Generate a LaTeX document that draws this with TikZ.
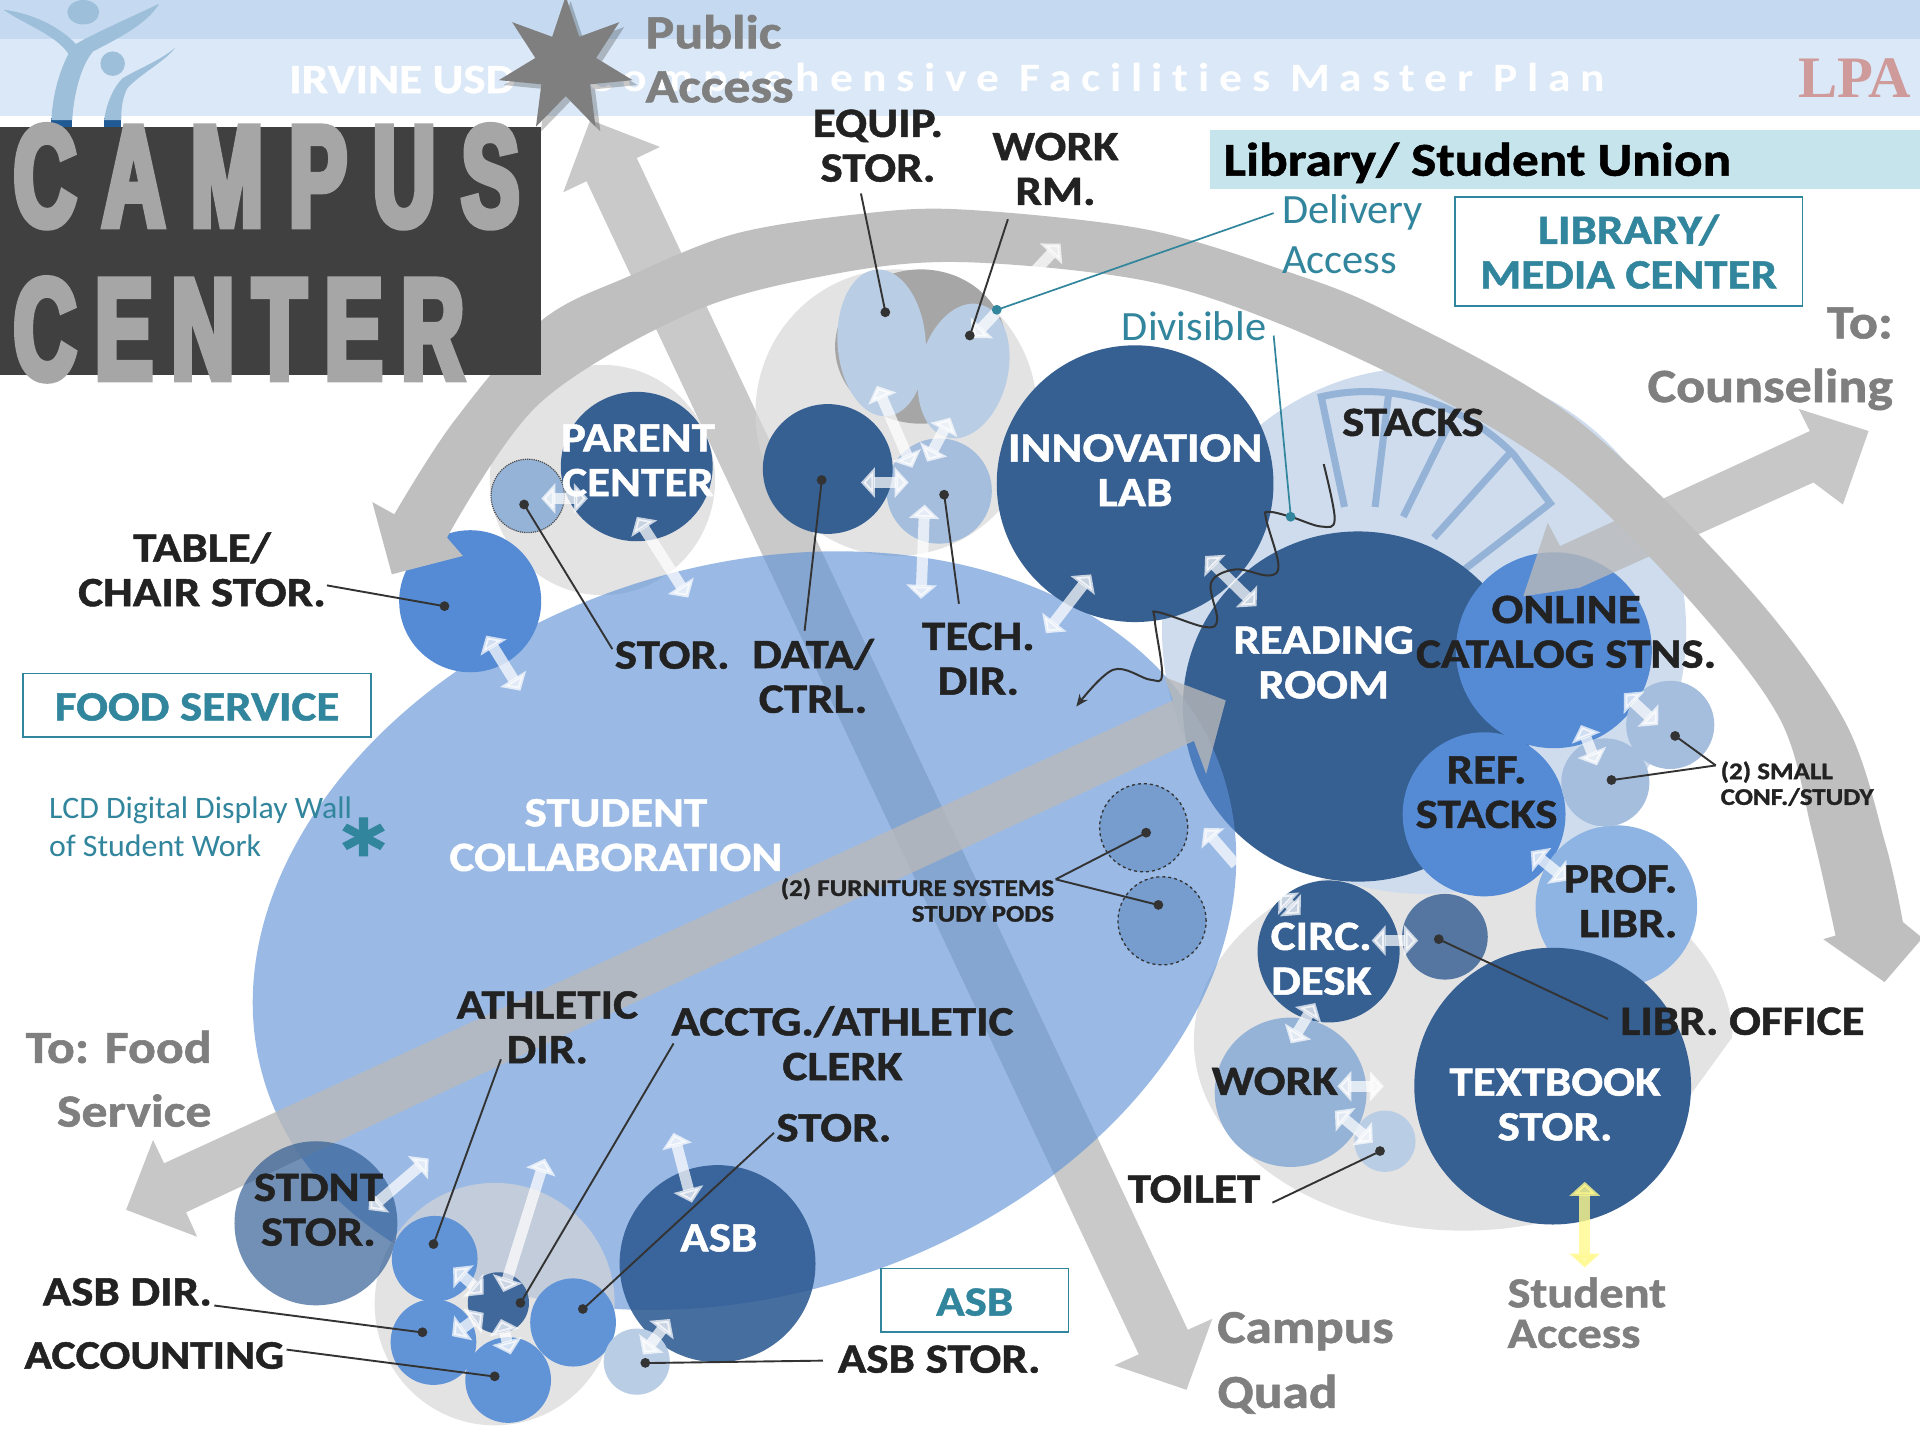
\documentclass[tikz,border=0pt]{standalone}
\usepackage{fontspec}
\setmainfont[FakeStretch=1.02,BoldFeatures={FakeStretch=1.13,FakeBold=1.2}]{Carlito}
\newfontfamily\impf[FakeStretch=0.6,FakeBold=4.5,LetterSpace=18]{Liberation Sans}
\newfontfamily\impg[FakeStretch=0.6,FakeBold=4.5,LetterSpace=13]{Liberation Sans}
\newfontfamily\hdrf[FakeStretch=1.13,LetterSpace=24,Ligatures=NoCommon]{Carlito}
\usetikzlibrary{shapes.geometric,arrows.meta}
\definecolor{hdA}{HTML}{C5DAF0}\definecolor{hdB}{HTML}{DBE8F7}
\definecolor{fig}{HTML}{9DBFD9}\definecolor{figd}{HTML}{1F5A94}
\definecolor{tealc}{HTML}{31859C}\definecolor{darkb}{HTML}{365F92}
\definecolor{midb}{HTML}{558BD5}\definecolor{softb}{HTML}{95B3D7}
\definecolor{paleb}{HTML}{B9CDE5}\definecolor{txtd}{HTML}{222222}
\definecolor{txtg}{HTML}{7F7F7F}\definecolor{lnk}{HTML}{333333}
\definecolor{stuc}{HTML}{5C91D6}\definecolor{profc}{HTML}{8EB4E3}
\definecolor{podc}{HTML}{769DCE}\definecolor{asbc}{HTML}{2D5A92}
\definecolor{smb}{HTML}{6194D7}\definecolor{clerkc}{HTML}{41689B}
\definecolor{barc}{HTML}{C6E4EB}\definecolor{lpac}{HTML}{CF9A9A}
\tikzset{
 lab/.style={inner sep=0pt,align=center,font=\bfseries\fontsize{34}{36.5}\selectfont},
 wl/.style={lab,text=white},
 dl/.style={lab,text=txtd},
 smal/.style={inner sep=0pt,text=txtd,font=\bfseries\fontsize{19.5}{21}\selectfont},
 gl/.style={inner sep=0pt,text=txtg,font=\bfseries\fontsize{39}{44}\selectfont},
 tl/.style={inner sep=0pt,text=tealc,font=\fontsize{34}{41}\selectfont},
 boxn/.style={draw=tealc,line width=1.6pt,fill=white,inner sep=0pt,align=center,text=tealc,font=\bfseries\fontsize{34}{36.5}\selectfont},
 blobn/.style={ellipse,inner sep=0pt,draw=none},
 dotn/.style={circle,fill=lnk,inner sep=0pt,minimum size=8},
 tdot/.style={circle,fill=tealc,inner sep=0pt,minimum size=8},
 leader/.style={draw=lnk,line width=1.9pt},
 tleader/.style={draw=tealc,line width=1.7pt},
 wh/.style={draw=white,opacity=.72,line width=11pt,{Triangle[length=14pt,width=30pt]}-{Triangle[length=14pt,width=30pt]}},
 whone/.style={draw=white,opacity=.72,line width=11pt,{Triangle[length=14pt,width=30pt]}-},
 yl/.style={draw=yellow!45,opacity=.8,line width=11pt,{Triangle[length=14pt,width=30pt]}-{Triangle[length=14pt,width=30pt]}},
 bigarrow/.style={fill=black!27.5,fill opacity=.79},
}
\newcommand\blob[6]{\node[blobn,minimum width=2*#4,minimum height=2*#5,#6] (#1) at (#2,#3) {};}
\newcount\wn \wn=0
\newcommand\dbl[5][wh]{\global\advance\wn by 1
 \coordinate (wa\the\wn) at (#2,#3);\coordinate (wb\the\wn) at (#4,#5);
 \draw[#1] (wa\the\wn) -- (wb\the\wn);}
\newcommand\lead[5]{\node[dotn] (#1) at (#2,#3) {};\coordinate (#1e) at (#4,#5);\draw[leader] (#1.center) -- (#1e);}
\begin{document}
\begin{tikzpicture}[x=1pt,y=-1pt,scale=1.22449,every node/.append style={transform shape}]
\useasboundingbox (0,0) rectangle (1568,1176);
\fill[white] (0,0) rectangle (1568,1176);
% header
\fill[hdA] (0,0) rectangle (1568,32);
\fill[hdB] (0,32) rectangle (1568,95);
\node[inner sep=0pt,anchor=west,text=white,font=\bfseries\fontsize{34}{36}\selectfont] (hdra) at (236,65) {IRVINE USD};
\node[inner sep=0pt,anchor=east,text=white,font=\hdrf\bfseries\fontsize{33}{36}\selectfont] (hdrb) at (1311,66) {Comprehensive Facilities Master Plan};
\node[inner sep=0pt,anchor=east,text=lpac,font=\fontspec{Liberation Serif}\bfseries\fontsize{48}{48}\selectfont] (lpa) at (1561,64) {LPA};
% logo
\fill[figd] (42,96) rectangle (59,104);\fill[figd] (85,96) rectangle (99,104);
\fill[fig] (3,8) .. controls (20,10) and (45,18) .. (62,36) .. controls (75,28) and (105,15) .. (130,3) .. controls (120,20) and (95,32) .. (76,42) .. controls (65,55) and (60,80) .. (59,98) -- (42,98) .. controls (43,75) and (50,55) .. (56,44) .. controls (45,28) and (20,20) .. (3,8) -- cycle;
\fill[fig] (143,39) .. controls (135,50) and (115,60) .. (104,72) .. controls (100,80) and (99,88) .. (99,98) -- (85,98) .. controls (87,85) and (92,72) .. (100,64) .. controls (115,55) and (130,50) .. (143,39) -- cycle;
\blob{heada}{68}{10}{13}{10}{fill=fig}
\blob{headb}{92}{52}{10}{10}{fill=fig}
% arrow A
\fill[black!21] (482,98) -- (539,120) -- (520,129) -- (970,1086) -- (990,1077) -- (969,1135) -- (910,1115) -- (930,1106) -- (479,148) -- (460,157) -- cycle;
% grey blobs below student area
\blob{gpar}{492}{392}{92}{94}{fill=black!16,fill opacity=.68}
\blob{gdata}{732}{337}{115}{117}{fill=black!16,fill opacity=.68}
\begin{scope}
\clip (900,600) -- (1500,600) -- (1414,848) -- (1340,950) -- (1300,1100) -- (900,1100) -- cycle;
\blob{glow}{1195}{850}{220}{155}{fill=black!16,fill opacity=.68}
\end{scope}
\blob{gstack}{1163}{515}{214}{215}{fill=paleb!70}
% stacks
\draw[softb,line width=7pt,line join=miter] (1098,414) -- (1079,324) .. controls (1130,312) and (1190,325) .. (1236,371) -- (1266,411) -- (1196,465);
\draw[softb,line width=7pt] (1134,322) -- (1123,414);
\draw[softb,line width=7pt] (1184,345) -- (1146,422);
\draw[softb,line width=7pt] (1234,369) -- (1171,439);
% reading room
\blob{reading}{1109}{577}{143}{143}{fill=darkb}
% student ellipse
\node[blobn,minimum width=822,minimum height=594,rotate=18,fill=stuc,fill opacity=.62] (student) at (608,760) {};
\blob{gasb}{404}{1065}{98}{99}{fill=black!16,fill opacity=.68}
% blue nodes
\blob{table}{384}{491}{58}{58}{fill=midb}
\blob{online}{1269}{531}{80}{80}{fill=midb}
\blob{refst}{1212}{665}{66.5}{67}{fill=midb}
\blob{prof}{1320}{740}{66}{66}{fill=profc}
\blob{workn}{1054}{892}{62}{61}{fill=softb}
\blob{toilet}{1131}{932}{25}{25}{fill=paleb}
\blob{confa}{1311}{639}{36}{36}{fill=softb!85}
\blob{confb}{1364}{592}{36}{36}{fill=softb!85}
\blob{tech}{767}{401}{43}{43}{fill=softb!85}
\blob{greyc}{752}{283}{70}{63}{fill=black!35}
\blob{equip}{720}{280}{36}{60}{fill=paleb,rotate=4}
\blob{workrm}{787}{303}{36}{56}{fill=paleb,rotate=-14}
\blob{storp}{431}{405}{30}{30}{fill=softb,draw=black!70,densely dotted,line width=1.2pt}
\blob{poda}{934}{676}{36}{36}{fill=podc,draw=lnk,dashed,line width=1.3pt}
\blob{podb}{949}{752}{36}{36}{fill=podc,draw=lnk,dashed,line width=1.3pt}
\blob{innov}{927}{395}{113}{113}{fill=darkb}
\blob{parent}{520}{381}{62}{61}{fill=darkb}
\blob{data}{676}{383}{53}{53}{fill=darkb}
\blob{circ}{1085}{777}{58}{58}{fill=darkb}
\blob{office}{1180}{765}{35}{35}{fill=darkb,fill opacity=.82}
\blob{textbook}{1268}{887}{113}{113}{fill=darkb}
% arrows B and C
\fill[bigarrow] (1001,572) -- (985,632) -- (975,605) -- (152,990) -- (161,1010) -- (103,988) -- (125,931) -- (134,950) -- (958,572) -- (951,553) -- cycle;
\fill[bigarrow] (1526,352) -- (1505,412) -- (1481,394) -- (1290,480) -- (1244,487) -- (1264,427) -- (1274,446) -- (1478,352) -- (1469,334) -- cycle;
\blob{asb}{586}{1032}{80}{80.5}{fill=asbc,fill opacity=.88}
\blob{stdnt}{258}{999}{66.5}{67}{fill=asbc,fill opacity=.67}
\blob{athl}{355}{1028}{35}{35}{fill=smb}
\blob{asbdir}{354}{1096}{35}{35}{fill=smb}
\blob{acct}{415}{1127}{35}{35}{fill=smb}
\blob{storb}{468}{1080}{35}{36}{fill=smb}
\blob{clerk}{407}{1064}{25}{25}{fill=clerkc}
\blob{asbst}{520}{1112}{27}{27}{fill=paleb}
% arc
\fill[black!25] plot[smooth,tension=.55] coordinates {(322,420) (370,345) (442,262) (515,225) (600,191) (700,175) (784,171) (934,187) (1049,221) (1134,255) (1284,340) (1424,476) (1506,588) (1540,690) (1554,753)} -- (1570,766) -- (1539,802) -- (1489,767) -- plot[smooth,tension=.55] coordinates {(1499,764) (1480,680) (1454,588) (1384,495) (1284,394) (1184,330) (1049,266) (934,229) (784,214) (680,224) (565,255) (440,330) (365,439)} -- (378,454) -- (320,469) -- (304,410) -- cycle;
% white arrows
\dbl{716}{315}{745}{382}
\dbl{776}{341}{757}{377}
\dbl{703}{394}{742}{394}
\dbl{755}{412}{752}{489}
\dbl{442}{407}{480}{407}
\dbl{520}{422}{562}{488}
\dbl{397}{519}{425}{564}
\dbl{866}{199}{794}{276}
\dbl{891}{469}{854}{517}
\dbl{984}{454}{1026}{495}
\dbl{1326}{566}{1354}{592}
\dbl{1291}{592}{1304}{625}
\dbl{1250}{695}{1280}{719}
\dbl[whone]{983}{676}{1009}{706}
\dbl{1044}{730}{1062}{747}
\dbl{1120}{768}{1158}{768}
\dbl{1074}{819}{1054}{852}
\dbl{1092}{887}{1130}{887}
\dbl{1090}{907}{1121}{933}
\dbl[yl]{1294}{965}{1294}{1035}
\dbl{350}{946}{301}{988}
\dbl{445}{946}{411}{1055}
\dbl{550}{925}{565}{982}
\dbl{370}{1035}{395}{1057}
\dbl{395}{1072}{369}{1091}
\dbl{409}{1077}{417}{1106}
\dbl{547}{1077}{525}{1106}
% divisible wall
\draw[lnk,line width=2pt,-{Stealth[length=12pt,width=10pt]}] plot[smooth,tension=.6] coordinates {(1081,379) (1090,424) (1079,430) (1054,422) (1036,418) (1034,424) (1044,461) (1036,470) (1009,465) (989,476) (994,506) (984,512) (946,500) (943,506) (949,551) (939,555) (909,547) (879,577)};
% header rectangle
\fill[black!75] (0,104) rectangle (442,306);
\node[inner sep=0pt,anchor=west,text=black!35,font=\impf\bfseries\fontsize{118}{118}\selectfont] (campus) at (11,144) {CAMPUS};
\node[inner sep=0pt,anchor=west,text=black!35,font=\impg\bfseries\fontsize{118}{118}\selectfont] (center) at (11,269) {CENTER};
% star
\node[star,star points=7,star point ratio=2.2,minimum size=112,inner sep=0pt,fill=black,fill opacity=.22] (starsh) at (466,57) {};
\node[star,star points=7,star point ratio=2.2,minimum size=112,inner sep=0pt,fill=txtg] (star) at (462,53) {};
% bars and boxes
\fill[barc] (988,106) rectangle (1568,154);
\node[inner sep=0pt,anchor=west,text=black,font=\bfseries\fontsize{38.5}{44}\selectfont] (libsu) at (999,133) {Library/ Student Union};
\node[boxn,minimum width=284,minimum height=89] (libbox) at (1330,205.5) {LIBRARY/\\MEDIA CENTER};
\node[boxn,minimum width=284,minimum height=52,text height=25] (foodbox) at (161,576) {FOOD SERVICE};
\node[boxn,minimum width=153,minimum height=52,text height=25] (asbbox) at (796,1062) {ASB};
% leaders
\lead{la}{363}{495}{267}{478}
\lead{lb}{428}{412}{500}{530}
\lead{lc}{671}{392}{657}{515}
\lead{ld}{771}{404}{783}{493}
\lead{le}{723}{255}{703}{158}
\lead{lf}{792}{274}{823}{179}
\lead{lg}{1175}{767}{1313}{832}
\lead{lh}{1127}{940}{1039}{982}
\lead{li}{1316}{637}{1401}{625}
\lead{lj}{1368}{601}{1401}{625}
\lead{lk}{936}{680}{862}{718}
\lead{ll}{946}{739}{862}{718}
\lead{lm}{354}{1016}{409}{865}
\lead{ln}{425}{1064}{550}{852}
\lead{lo}{476}{1069}{632}{925}
\lead{lp}{345}{1088}{175}{1066}
\lead{lq}{404}{1124}{234}{1102}
\lead{lr}{527}{1113}{672}{1111}
\node[tdot] (tda) at (814,253) {};\coordinate (tdae) at (1040,174);\draw[tleader] (tda.center) -- (tdae);
\node[tdot] (tdb) at (1054,422) {};\coordinate (tdbe) at (1040,274);\draw[tleader] (tdb.center) -- (tdbe);
% labels
\node[gl,align=left,anchor=west] (tpub) at (527,48) {Public\\Access};
\node[dl] (tequip) at (717,119) {EQUIP.\\STOR.};
\node[dl] (tworkrm) at (862,138) {WORK\\RM.};
\node[tl,align=left,anchor=west] (tdeliv) at (1047,191) {Delivery\\Access};
\node[gl,align=right,anchor=east,font=\bfseries\fontsize{39}{52}\selectfont] (tcoun) at (1546,293) {To:\\Counseling};
\node[tl,anchor=west] (tdiv) at (916,266) {Divisible};
\node[dl] (tstacks) at (1154,345) {STACKS};
\node[wl] (tread) at (1081,541) {READING\\ROOM};
\node[dl] (tonline) at (1279,516) {ONLINE\\CATALOG STNS.};
\node[dl] (tref) at (1214,647) {REF.\\STACKS};
\node[dl,align=right,anchor=east] (tprof) at (1370,736) {PROF.\\LIBR.};
\node[smal,align=left,anchor=west] (tconf) at (1405,640) {(2) SMALL\\CONF./STUDY};
\node[smal,align=right,anchor=east] (tfurn) at (861,735) {(2) FURNITURE SYSTEMS\\STUDY PODS};
\node[wl] (tcirc) at (1079,783) {CIRC.\\DESK};
\node[dl] (toffice) at (1423,834) {LIBR. OFFICE};
\node[dl] (twork) at (1041,883) {WORK};
\node[wl] (ttext) at (1270,902) {TEXTBOOK\\STOR.};
\node[dl] (ttoil) at (975,971) {TOILET};
\node[gl,align=left,anchor=west,font=\bfseries\fontsize{35}{33}\selectfont] (tstud) at (1231,1072) {Student\\Access};
\node[gl,align=left,anchor=west,font=\bfseries\fontsize{38.5}{53}\selectfont] (tquad) at (994,1113) {Campus\\Quad};
\node[dl] (tasbs) at (767,1110) {ASB STOR.};
\node[wl] (tasb) at (587,1011) {ASB};
\node[dl] (tstor) at (681,921) {STOR.};
\node[dl] (tacct) at (688,852) {ACCTG./ATHLETIC\\CLERK};
\node[dl] (tathl) at (447,839) {ATHLETIC\\DIR.};
\node[dl] (tstdnt) at (260,988) {STDNT\\STOR.};
\node[dl] (tasbd) at (104,1055) {ASB DIR.};
\node[dl,font=\bfseries\fontsize{33}{36}\selectfont] (tacc) at (126,1107) {ACCOUNTING};
\node[gl,align=right,anchor=east,font=\bfseries\fontsize{37.5}{52}\selectfont] (tfood) at (173,881) {To: Food\\Service};
\node[wl] (tstudc) at (503,682) {STUDENT\\COLLABORATION};
\node[inner sep=0pt,text=tealc,align=left,anchor=west,font=\fontsize{25.5}{31}\selectfont] (tlcd) at (40,675) {LCD Digital Display Wall\\of Student Work};
\node[inner sep=0pt,text=tealc,font=\bfseries\fontsize{95}{95}\selectfont] (tast) at (297,702) {*};
\node[dl] (ttable) at (165,465) {TABLE/\\CHAIR STOR.};
\node[dl] (tstorb) at (549,535) {STOR.};
\node[dl] (tdata) at (664,552) {DATA/\\CTRL.};
\node[dl] (ttech) at (799,538) {TECH.\\DIR.};
\node[wl] (tpar) at (521,376) {PARENT\\CENTER};
\node[wl] (tinn) at (927,384) {INNOVATION\\LAB};
\end{tikzpicture}
\end{document}
